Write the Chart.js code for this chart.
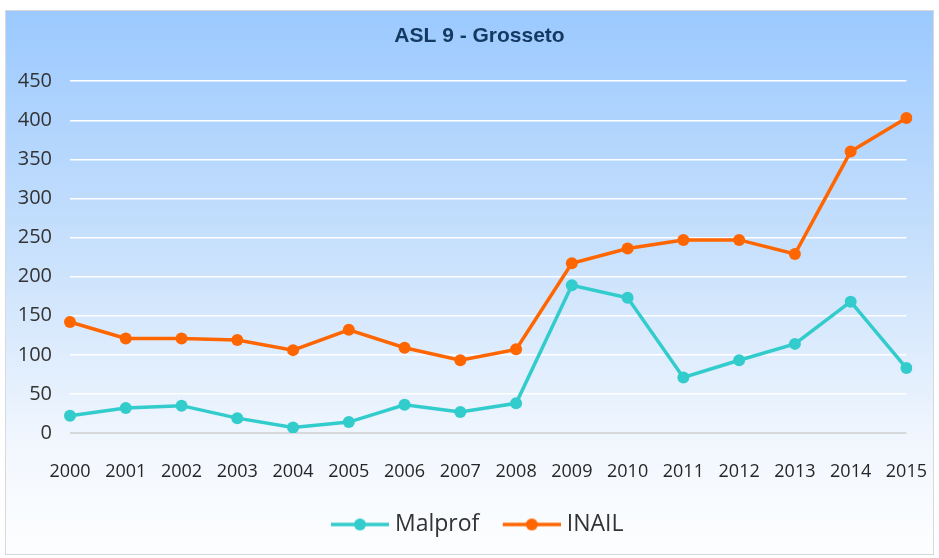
<!DOCTYPE html>
<html>
<head>
<meta charset="utf-8">
<title>ASL 9 - Grosseto</title>
<script src="https://cdn.jsdelivr.net/npm/chart.js@4/dist/chart.umd.min.js"></script>
<style>
    html, body { margin: 0; padding: 0; background: #ffffff; }
    canvas { display: block; }
</style>
</head>
<body>
<canvas id="chart-area-1" width="939" height="558"></canvas>
<script>
/******************************************************************************
* Data.
******************************************************************************/
var years   = ["2000", "2001", "2002", "2003", "2004", "2005", "2006", "2007",
               "2008", "2009", "2010", "2011", "2012", "2013", "2014", "2015"];
var malprof = [22, 32, 35, 19, 7, 14, 36, 27, 38, 189, 173, 71, 93, 114, 168, 83];
var inail   = [142, 121, 121, 119, 106, 132, 109, 93, 107, 217, 236, 247, 247, 229, 360, 403];
var y_ticks = [0, 50, 100, 150, 200, 250, 300, 350, 400, 450];

var TEAL   = '#33CCCC';
var ORANGE = '#FF6600';
var FONT   = "'Open Sans', 'DejaVu Sans', sans-serif";

/******************************************************************************
* Legend marker: a short line with a dot in the middle. The left part of the
* image is left empty so the gap before each item looks like the original.
******************************************************************************/
function make_marker(color) {
    var c = document.createElement('canvas');
    c.width = 77;
    c.height = 14;
    var ctx = c.getContext('2d');
    ctx.strokeStyle = color;
    ctx.lineWidth = 3.5;
    ctx.beginPath();
    ctx.moveTo(19, 7);
    ctx.lineTo(77, 7);
    ctx.stroke();
    ctx.fillStyle = color;
    ctx.beginPath();
    ctx.arc(48, 7, 6, 0, Math.PI * 2);
    ctx.fill();
    return c;
}

/******************************************************************************
* Draws the frame with the blue gradient behind the chart.
******************************************************************************/
var background_plugin = {
    id: 'background',
    beforeDraw: function(chart) {
        var ctx = chart.ctx;
        ctx.save();
        ctx.fillStyle = '#ffffff';
        ctx.fillRect(0, 0, chart.width, chart.height);
        var grad = ctx.createLinearGradient(0, 10, 0, 555);
        grad.addColorStop(0, '#9BC9FF');
        grad.addColorStop(0.45, '#C9E1FC');
        grad.addColorStop(0.8, '#F2F7FE');
        grad.addColorStop(1, '#FDFEFF');
        ctx.fillStyle = grad;
        ctx.fillRect(5, 10, 929, 545);
        ctx.strokeStyle = '#D9D9D9';
        ctx.lineWidth = 1;
        ctx.strokeRect(5.5, 10.5, 928, 544);
        ctx.restore();
    }
};

/******************************************************************************
* Title and legend sit a little right of the canvas centre in the original.
******************************************************************************/
var nudge_plugin = {
    id: 'nudge',
    afterLayout: function(chart) {
        var t = chart.titleBlock;
        t.left  += 16;
        t.right += 16;
        var l = chart.legend;
        l.left  += 7;
        l.right += 7;
    }
};

/******************************************************************************
* This creates the chart
******************************************************************************/
function create_chart() {
    var ctx = document.getElementById("chart-area-1").getContext("2d");

    var config = {
        type: 'line',
        data: {
            labels: years,
            datasets: [{
                label: 'Malprof',
                data: malprof,
                borderColor: TEAL,
                backgroundColor: TEAL,
                borderWidth: 3.5,
                pointRadius: 6,
                pointBackgroundColor: TEAL,
                pointBorderWidth: 0,
                pointStyle: 'circle',
                tension: 0
            }, {
                label: 'INAIL',
                data: inail,
                borderColor: ORANGE,
                backgroundColor: ORANGE,
                borderWidth: 3.5,
                pointRadius: 6,
                pointBackgroundColor: ORANGE,
                pointBorderWidth: 0,
                pointStyle: 'circle',
                tension: 0
            }]
        },
        options: {
            responsive: false,
            animation: false,
            devicePixelRatio: 1,
            layout: {
                padding: { left: 5, right: 17, top: 10, bottom: 12 }
            },
            scales: {
                x: {
                    offset: false,
                    grid: { display: false, drawTicks: false },
                    border: { display: false },
                    ticks: {
                        padding: 12,
                        color: '#262626',
                        font: { family: FONT, size: 18, lineHeight: 3 },
                        maxRotation: 0,
                        autoSkip: false
                    },
                    afterFit: function(scale) { scale.height = 70; }
                },
                y: {
                    min: y_ticks[0],
                    max: y_ticks[y_ticks.length - 1],
                    grid: {
                        drawTicks: false,
                        color: function(c) {
                            return c.tick && c.tick.value === 0 ? '#D6D8DC' : '#FFFFFF';
                        },
                        lineWidth: function(c) {
                            return c.tick && c.tick.value === 0 ? 2 : 1.5;
                        }
                    },
                    border: { display: false },
                    ticks: {
                        stepSize: y_ticks[1] - y_ticks[0],
                        padding: 18,
                        color: '#333333',
                        font: { family: FONT, size: 20 }
                    },
                    afterFit: function(scale) { scale.width = 65; }
                }
            },
            plugins: {
                title: {
                    display: true,
                    text: 'ASL 9 - Grosseto',
                    color: '#153A62',
                    font: { family: "'Liberation Sans', Arial, sans-serif", size: 21, weight: 'bold' },
                    padding: { top: 14, bottom: 32 }
                },
                legend: {
                    position: 'bottom',
                    labels: {
                        usePointStyle: true,
                        pointStyleWidth: 66,
                        boxHeight: 14,
                        padding: 10,
                        color: '#333333',
                        font: { family: FONT, size: 23 },
                        generateLabels: function(chart) {
                            return chart.data.datasets.map(function(ds, i) {
                                return {
                                    text: ds.label,
                                    fillStyle: ds.borderColor,
                                    strokeStyle: ds.borderColor,
                                    lineWidth: 0,
                                    pointStyle: make_marker(ds.borderColor),
                                    hidden: false,
                                    datasetIndex: i,
                                    fontColor: '#333333'
                                };
                            });
                        }
                    }
                },
                tooltip: { enabled: false }
            }
        },
        plugins: [background_plugin, nudge_plugin]
    };

    window.myLine = new Chart(ctx, config);
}

create_chart();
</script>
</body>
</html>
